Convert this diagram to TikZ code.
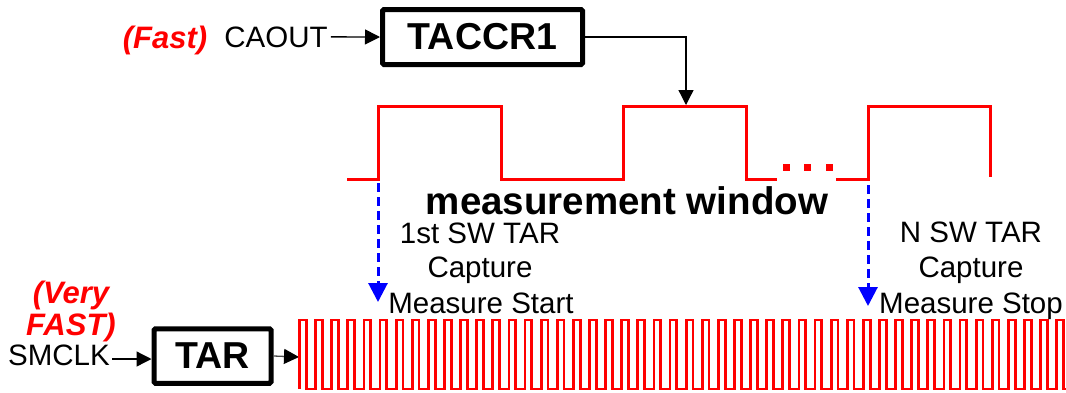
\documentclass[tikz,border=0pt]{standalone}
\usepackage{fontspec}
\setmainfont{Liberation Sans}
\usetikzlibrary{arrows.meta}
\begin{document}
\begin{tikzpicture}[x=1pt,y=-1pt,
  txt/.style={inner sep=0pt, font=\fontsize{29.5}{35}\selectfont},
  redtxt/.style={inner sep=0pt, text=red, font=\fontsize{31}{36}\selectfont\bfseries\itshape},
  boxnode/.style={draw, line width=5pt, rounded corners=1.5pt, inner sep=0pt, font=\fontsize{37.5}{40}\selectfont\bfseries},
  arr/.style={line width=1.3pt, -{Triangle[length=15pt,width=15pt,color=black]}},
  wave/.style={red, line width=3pt},
  marker/.style={blue, line width=3pt, dash pattern=on 9pt off 5pt, -{Triangle[length=19pt,width=19pt]}},
]
\useasboundingbox (0,0) rectangle (1066,392);

% boxes
\node[boxnode, minimum width=200pt, minimum height=55pt] (T) at (482.5,37) {TACCR1};
\node[boxnode, minimum width=117pt, minimum height=54.5pt] (R) at (212.5,356) {TAR};

% left labels
\node[redtxt, anchor=base] (fast) at (165,48) {(Fast)};
\node[txt, anchor=base] (ca) at (276,47) {CAOUT};
\node[redtxt, anchor=base] (very) at (71,303) {(Very};
\node[redtxt, anchor=base] (vfast) at (71,335) {FAST)};
\node[txt, anchor=base] (sm) at (59,365) {SMCLK};

% connectors
\draw[arr] ([xshift=3pt]ca.east) -- (T.west);
\coordinate (tip1) at (686,105);
\draw[arr] (T.east) -| (tip1);
\draw[arr] ([xshift=2pt,yshift=-3pt]R.west -| sm.east) -- ([yshift=-3pt]R.west);
\coordinate (clk) at (299,357);
\draw[arr, draw=black!70] (R.east) -- (clk);

% blue markers
\coordinate (m1top) at (378,155);
\coordinate (m1bot) at (378,302);
\coordinate (m2top) at (868,157);
\coordinate (m2bot) at (868,306);
\draw[marker] (m1top) -- (m1bot);
\draw[marker] (m2top) -- (m2bot);

% slow waveform
\draw[wave] (347,179) -- (378,179) -- (378,106) -- (501,106) -- (501,179) -- (623,179) -- (623,106) -- (746,106) -- (746,179) -- (777,179);
\draw[wave] (836,179) -- (868,179) -- (868,106) -- (990,106) -- (990,177);
\fill[red] (782.5,163.5) rectangle +(7,7);
\fill[red] (804,163.5) rectangle +(7,7);
\fill[red] (825.5,163.5) rectangle +(7,7);

% fast clock
\draw[wave, line width=2.8pt] (299.5,389)
  \foreach \k in {0,...,47}{ -- ({299.5+16.11*\k},320) -- ({306.3+16.11*\k},320) -- ({306.3+16.11*\k},389) -- ({315.61+16.11*\k},389)};

% texts
\node[anchor=base, inner sep=0pt, font=\fontsize{38.5}{40}\selectfont\bfseries] (mw) at (627,214) {measurement window};
\node[txt, anchor=base] (s1) at (480,243) {1st SW TAR};
\node[txt, anchor=base] (s2) at (480,277) {Capture};
\node[txt, anchor=base] (s3) at (481,313) {Measure Start};
\node[txt, anchor=base] (n1) at (971,242) {N SW TAR};
\node[txt, anchor=base] (n2) at (971,277) {Capture};
\node[txt, anchor=base] (n3) at (971,313) {Measure Stop};
\end{tikzpicture}
\end{document}
